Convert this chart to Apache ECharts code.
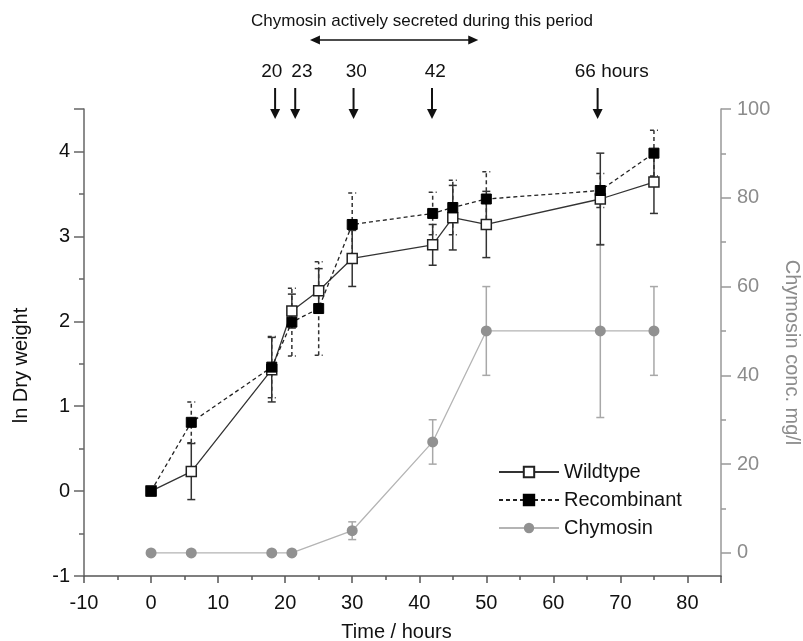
<!DOCTYPE html>
<html>
<head>
<meta charset="utf-8">
<script src="https://cdn.jsdelivr.net/npm/echarts@6/dist/echarts.min.js"></script>
<style>
  html, body { margin: 0; background: #fff; }
  #chart { width: 803px; height: 641px; }
</style>
</head>
<body>
<div id="chart"></div>
<script>
// time points (hours)
const times = [0, 6, 18, 21, 25, 30, 42, 45, 50, 67, 75];
const wildtype = [0, 0.23, 1.43, 2.12, 2.36, 2.74, 2.9, 3.22, 3.14, 3.44, 3.64];
const wildtypeErr = [0, 0.33, 0.38, 0.2, 0.26, 0.33, 0.24, 0.38, 0.39, 0.54, 0.37];
const recombinant = [0, 0.81, 1.46, 1.99, 2.15, 3.14, 3.27, 3.34, 3.44, 3.54, 3.98];
const recombinantErr = [0, 0.24, 0.36, 0.4, 0.55, 0.37, 0.25, 0.32, 0.32, 0.2, 0.27];
const chymTimes = [0, 6, 18, 21, 30, 42, 50, 67, 75];
const chymosin = [0, 0, 0, 0, 5, 25, 50, 50, 50];
const chymosinErr = [0, 0, 0, 0, 2, 5, 10, 19.5, 10];

// annotations above the plot
const arrowTimes = [18.5, 21.5, 30.2, 41.9, 66.6];
const arrowLabels = ['20', '23', '30', '42', '66 hours'];
const arrowLabelTimes = [18.0, 22.5, 30.6, 42.4, 68.7];
const secretedSpan = [23.7, 48.8];

const rightMajor = [0, 20, 40, 60, 80, 100];
const rightMinor = [10, 30, 50, 70, 90];

const FONT = 'Liberation Sans, Arial, sans-serif';

function errorBars(xs, ys, errs, yAxisIndex, style, z) {
  return {
    type: 'custom',
    yAxisIndex: yAxisIndex,
    z: z,
    silent: true,
    encode: { x: 0, y: [1, 2] },
    data: xs.map((t, i) => [t, ys[i] - errs[i], ys[i] + errs[i]]).filter(d => d[2] > d[1]),
    renderItem: function (params, api) {
      const lo = api.coord([api.value(0), api.value(1)]);
      const hi = api.coord([api.value(0), api.value(2)]);
      const w = 4;
      return {
        type: 'group',
        children: [
          { type: 'line', shape: { x1: lo[0], y1: lo[1], x2: hi[0], y2: hi[1] }, style: style },
          { type: 'line', shape: { x1: lo[0] - w, y1: lo[1], x2: lo[0] + w, y2: lo[1] }, style: style },
          { type: 'line', shape: { x1: hi[0] - w, y1: hi[1], x2: hi[0] + w, y2: hi[1] }, style: style }
        ]
      };
    }
  };
}

let myChart = echarts.init(document.getElementById('chart'));

const option = {
  animation: false,
  backgroundColor: '#fff',
  textStyle: { fontFamily: FONT },
  title: {
    text: 'Chymosin actively secreted during this period',
    left: 246,
    top: 8,
    textStyle: { fontFamily: FONT, fontSize: 17, fontWeight: 'normal', color: '#111' }
  },
  grid: { left: 84, right: 82, top: 109, bottom: 65, containLabel: false, outerBoundsMode: 'none' },
  legend: {
    orient: 'vertical',
    left: 493,
    top: 457,
    itemWidth: 60,
    itemHeight: 13,
    itemGap: 8,
    itemTextGap: 6,
    data: ['Wildtype', 'Recombinant', 'Chymosin'],
    textStyle: { fontFamily: FONT, fontSize: 20, color: '#111' }
  },
  xAxis: {
    type: 'value',
    min: -10,
    max: 85,
    interval: 10,
    name: 'Time / hours',
    nameLocation: 'middle',
    nameGap: 46,
    nameTextStyle: { fontFamily: FONT, fontSize: 20, color: '#111', padding: [0, 12, 0, 0] },
    axisLine: { onZero: false, lineStyle: { color: '#555', width: 1.5 } },
    axisTick: { length: 7, lineStyle: { color: '#555', width: 1.5 } },
    minorTick: { show: true, splitNumber: 2, length: 4, lineStyle: { color: '#555', width: 1.5 } },
    axisLabel: { margin: 17, fontSize: 20, color: '#111', showMaxLabel: false },
    splitLine: { show: false }
  },
  yAxis: [
    {
      type: 'value',
      min: -1,
      max: 4.5,
      interval: 1,
      name: 'ln Dry weight',
      nameLocation: 'middle',
      nameGap: 53,
      nameRotate: 90,
      nameTextStyle: { fontFamily: FONT, fontSize: 20, color: '#111', padding: [0, 46, 0, 0] },
      axisLine: { onZero: false, lineStyle: { color: '#666', width: 1.5 } },
      axisTick: { length: 10, lineStyle: { color: '#666', width: 1.5 } },
      minorTick: { show: true, splitNumber: 2, length: 5, lineStyle: { color: '#666', width: 1.5 } },
      axisLabel: { margin: 14, fontSize: 20, color: '#111', showMaxLabel: false },
      splitLine: { show: false }
    },
    {
      type: 'value',
      position: 'right',
      min: -5.2,
      max: 100,
      name: 'Chymosin conc. mg/l',
      nameLocation: 'middle',
      nameGap: 61,
      nameRotate: -90,
      nameTextStyle: { fontFamily: FONT, fontSize: 20, color: '#8c8c8c', padding: [0, 0, 0, 20] },
      axisLine: { onZero: false, lineStyle: { color: '#999', width: 1.5 } },
      axisTick: { customValues: rightMajor, length: 10, lineStyle: { color: '#999', width: 1.5 } },
      axisLabel: { customValues: rightMajor, margin: 16, fontSize: 20, color: '#8c8c8c' },
      splitLine: { show: false }
    },
    {
      type: 'value',
      position: 'right',
      min: -5.2,
      max: 100,
      axisLine: { show: false, onZero: false },
      axisTick: { customValues: rightMinor, length: 5, lineStyle: { color: '#999', width: 1.5 } },
      axisLabel: { show: false },
      splitLine: { show: false }
    }
  ],
  series: [
    errorBars(chymTimes, chymosin, chymosinErr, 1, { stroke: '#a8a8a8', lineWidth: 1.5 }, 1),
    errorBars(times, wildtype, wildtypeErr, 0, { stroke: '#333', lineWidth: 1.5 }, 2),
    errorBars(times, recombinant, recombinantErr, 0, { stroke: '#333', lineWidth: 1.5, lineDash: [4, 3] }, 2),
    {
      name: 'Chymosin',
      type: 'line',
      yAxisIndex: 1,
      z: 3,
      data: chymTimes.map((t, i) => [t, chymosin[i]]),
      symbol: 'circle',
      symbolSize: 11,
      showAllSymbol: true,
      itemStyle: { color: '#919191' },
      lineStyle: { color: '#b4b4b4', width: 1.3 }
    },
    {
      name: 'Wildtype',
      type: 'line',
      yAxisIndex: 0,
      z: 4,
      data: times.map((t, i) => [t, wildtype[i]]),
      symbol: 'rect',
      symbolSize: 10,
      showAllSymbol: true,
      itemStyle: { color: '#fff', borderColor: '#222', borderWidth: 1.5 },
      lineStyle: { color: '#333', width: 1.3 }
    },
    {
      name: 'Recombinant',
      type: 'line',
      yAxisIndex: 0,
      z: 5,
      data: times.map((t, i) => [t, recombinant[i]]),
      symbol: 'rect',
      symbolSize: 10,
      showAllSymbol: true,
      itemStyle: { color: '#000', borderColor: '#000', borderWidth: 1 },
      lineStyle: { color: '#222', width: 1.3, type: [4, 3] }
    },
    {
      // down arrows marking sampling times
      type: 'custom',
      yAxisIndex: 0,
      silent: true,
      clip: false,
      data: arrowTimes.map(t => [t, 4.5]),
      renderItem: function (params, api) {
        const p = api.coord([api.value(0), api.value(1)]);
        const top = p[1] - 21, bottom = p[1] + 10;
        return {
          type: 'group',
          children: [
            { type: 'line', shape: { x1: p[0], y1: top, x2: p[0], y2: bottom - 8 }, style: { stroke: '#111', lineWidth: 2 } },
            { type: 'polygon', shape: { points: [[p[0] - 5, bottom - 10], [p[0] + 5, bottom - 10], [p[0], bottom]] }, style: { fill: '#111' } }
          ]
        };
      }
    },
    {
      type: 'custom',
      yAxisIndex: 0,
      silent: true,
      clip: false,
      data: arrowLabelTimes.map((t, i) => [t, 4.5, arrowLabels[i]]),
      renderItem: function (params, api) {
        const p = api.coord([api.value(0), api.value(1)]);
        return {
          type: 'text',
          style: {
            x: p[0], y: p[1] - 37,
            text: arrowLabels[params.dataIndex],
            align: 'center', verticalAlign: 'middle',
            font: '19px ' + FONT, fill: '#111'
          }
        };
      }
    },
    {
      // double arrow for the secretion period
      type: 'custom',
      yAxisIndex: 0,
      silent: true,
      clip: false,
      data: [[secretedSpan[0], secretedSpan[1], 4.5]],
      renderItem: function (params, api) {
        const a = api.coord([api.value(0), api.value(2)]);
        const b = api.coord([api.value(1), api.value(2)]);
        const y = a[1] - 69;
        return {
          type: 'group',
          children: [
            { type: 'line', shape: { x1: a[0] + 6, y1: y, x2: b[0] - 6, y2: y }, style: { stroke: '#111', lineWidth: 1.5 } },
            { type: 'polygon', shape: { points: [[a[0], y], [a[0] + 10, y - 4.5], [a[0] + 10, y + 4.5]] }, style: { fill: '#111' } },
            { type: 'polygon', shape: { points: [[b[0], y], [b[0] - 10, y - 4.5], [b[0] - 10, y + 4.5]] }, style: { fill: '#111' } }
          ]
        };
      }
    }
  ]
};

myChart.setOption(option);
window.onresize = function () {
  myChart.resize();
};
</script>
</body>
</html>
